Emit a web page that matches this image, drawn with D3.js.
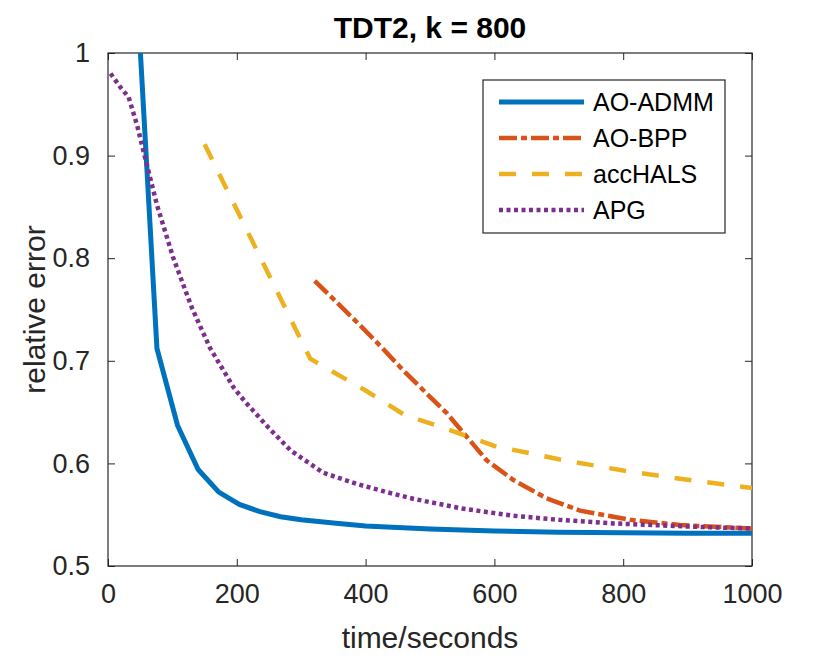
<!DOCTYPE html>
<html>
<head>
<meta charset="utf-8">
<script src="https://cdn.jsdelivr.net/npm/d3@7"></script>
<style>
  body { margin: 0; background: #fff; }
  svg { font-family: "Liberation Sans", Arial, sans-serif; }
</style>
</head>
<body>
<div class="graph"></div>
<script>
// readings: [time in seconds, relative error]
const admmTime = [45, 76, 108, 140, 172, 204, 236, 268, 300, 350, 400, 500, 600, 700, 800, 900, 1000];
const admmErr  = [1.06, 0.712, 0.637, 0.594, 0.572, 0.560, 0.553, 0.548, 0.545, 0.542, 0.539, 0.536, 0.534, 0.533, 0.5325, 0.532, 0.532];

const bppTime = [321, 386, 422, 458, 495, 526, 557, 588, 629, 681, 733, 811, 888, 1000];
const bppErr  = [0.778, 0.738, 0.715, 0.691, 0.668, 0.649, 0.626, 0.603, 0.584, 0.566, 0.554, 0.545, 0.540, 0.5365];

const halsTime = [150, 314, 400, 461, 520, 600, 700, 800, 900, 1000];
const halsErr  = [0.911, 0.702, 0.671, 0.647, 0.635, 0.617, 0.604, 0.593, 0.584, 0.576];

const apgTime = [4, 20, 32, 45, 56, 76, 101, 130, 158, 195, 213, 249, 283, 334, 386, 433, 474, 550, 629, 700, 785, 900, 1000];
const apgErr  = [0.980, 0.966, 0.957, 0.930, 0.902, 0.852, 0.801, 0.752, 0.713, 0.674, 0.660, 0.635, 0.613, 0.591, 0.580, 0.572, 0.5655, 0.556, 0.549, 0.545, 0.5415, 0.5385, 0.5365];

const seriesNames = ["AO-ADMM", "AO-BPP", "accHALS", "APG"];
const xTicks = [0, 200, 400, 600, 800, 1000];
const yTicks = [0.5, 0.6, 0.7, 0.8, 0.9, 1];

const width = 830,
      height = 660,
      mLeft = 108, mRight = 752,
      mTop = 53, mBottom = 566,
      ink = "#262626";

const series = [
  { name: seriesNames[0], t: admmTime, v: admmErr, color: "#0072BD", w: 5, dash: null },
  { name: seriesNames[1], t: bppTime,  v: bppErr,  color: "#D95319", w: 4.5, dash: "18,4,6,4" },
  { name: seriesNames[2], t: halsTime, v: halsErr, color: "#EDB120", w: 4.5, dash: "17,16" },
  { name: seriesNames[3], t: apgTime,  v: apgErr,  color: "#7E2F8E", w: 4.5, dash: "4,3.5" }
];

const x = d3.scaleLinear().domain([0, 1000]).range([mLeft, mRight]);
const y = d3.scaleLinear().domain([0.5, 1]).range([mBottom, mTop]);

const svg = d3.select(".graph")
  .append("svg")
  .attr("width", width)
  .attr("height", height);

svg.append("clipPath").attr("id", "plotclip")
  .append("rect")
  .attr("x", mLeft).attr("y", mTop)
  .attr("width", mRight - mLeft).attr("height", mBottom - mTop);

// axes, ticks pointing inwards, box all around
const styleAxis = g => {
  g.select(".domain").remove();
  g.selectAll("line").attr("stroke", ink);
  g.selectAll("text").attr("fill", ink).attr("font-size", 27);
};

svg.append("g")
  .attr("transform", `translate(0,${mBottom})`)
  .call(d3.axisBottom(x).tickValues(xTicks).tickSize(-7).tickPadding(18).tickFormat(d3.format("d")))
  .call(styleAxis);

svg.append("g")
  .attr("transform", `translate(0,${mTop})`)
  .call(d3.axisTop(x).tickValues(xTicks).tickSize(-7).tickFormat(""))
  .call(styleAxis);

svg.append("g")
  .attr("transform", `translate(${mLeft},0)`)
  .call(d3.axisLeft(y).tickValues(yTicks).tickSize(-7).tickPadding(18).tickFormat(d => d === 1 ? "1" : d3.format(".1f")(d)))
  .call(styleAxis);

svg.append("g")
  .attr("transform", `translate(${mRight},0)`)
  .call(d3.axisRight(y).tickValues(yTicks).tickSize(-7).tickFormat(""))
  .call(styleAxis);

svg.append("rect")
  .attr("x", mLeft).attr("y", mTop)
  .attr("width", mRight - mLeft).attr("height", mBottom - mTop)
  .attr("fill", "none").attr("stroke", ink).attr("stroke-width", 1.2);

const line = d3.line().x(d => x(d[0])).y(d => y(d[1]));

const plot = svg.append("g").attr("clip-path", "url(#plotclip)");

series.forEach(s => {
  plot.append("path")
    .datum(s.t.map((t, i) => [t, s.v[i]]))
    .attr("d", line)
    .attr("fill", "none")
    .attr("stroke", s.color)
    .attr("stroke-width", s.w)
    .attr("stroke-dasharray", s.dash);
});

// title and labels
svg.append("text")
  .attr("x", (mLeft + mRight) / 2).attr("y", 38)
  .attr("text-anchor", "middle")
  .attr("font-size", 30).attr("font-weight", "bold")
  .attr("fill", "#000")
  .text("TDT2, k = 800");

svg.append("text")
  .attr("x", (mLeft + mRight) / 2).attr("y", 648)
  .attr("text-anchor", "middle")
  .attr("font-size", 30).attr("fill", ink)
  .text("time/seconds");

svg.append("text")
  .attr("transform", `translate(45,${(mTop + mBottom) / 2}) rotate(-90)`)
  .attr("text-anchor", "middle")
  .attr("font-size", 30).attr("fill", ink)
  .text("relative error");

// legend
const legend = svg.append("g");
legend.append("rect")
  .attr("x", 483).attr("y", 80)
  .attr("width", 242).attr("height", 153)
  .attr("fill", "#fff").attr("stroke", ink).attr("stroke-width", 1.2);

series.forEach((s, i) => {
  const ly = 102 + i * 36;
  legend.append("line")
    .attr("x1", 499).attr("x2", 584)
    .attr("y1", ly).attr("y2", ly)
    .attr("stroke", s.color)
    .attr("stroke-width", s.w)
    .attr("stroke-dasharray", s.dash);
  legend.append("text")
    .attr("x", 593).attr("y", ly)
    .attr("dy", "0.35em")
    .attr("font-size", 25).attr("fill", "#000")
    .text(s.name);
});
</script>
</body>
</html>
